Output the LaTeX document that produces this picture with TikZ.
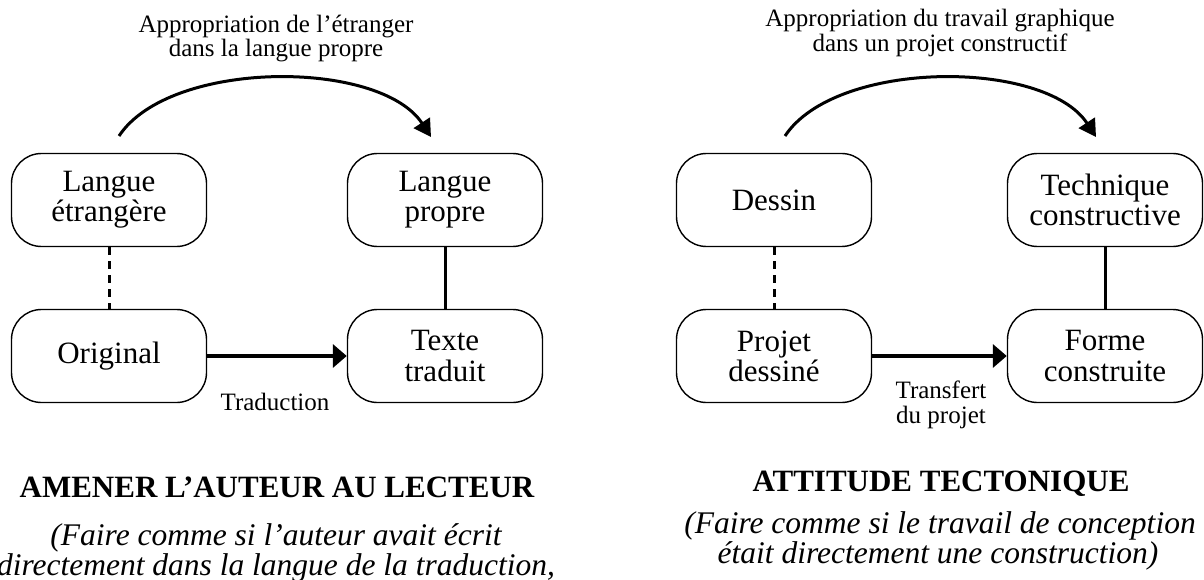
\documentclass[tikz,border=0pt]{standalone}
\usepackage{fontspec}
\setmainfont{Liberation Serif}
\usetikzlibrary{arrows.meta}
\begin{document}
\begin{tikzpicture}[x=1pt,y=-1pt,
  box/.style={draw, line width=1.4pt, rounded corners=30pt,
    minimum width=195pt, minimum height=93pt, align=center, inner sep=0pt,
    font=\fontsize{31}{30}\selectfont},
  solidlink/.style={line width=3pt},
  dashlink/.style={line width=3pt, dash pattern=on 8pt off 6pt},
  flow/.style={line width=3.5pt, -{Triangle[length=14pt,width=23pt]}},
  bendarrow/.style={line width=3pt, -{Triangle[length=17pt,width=19pt]}},
  smalltext/.style={font=\fontsize{25}{25}\selectfont, anchor=base, inner sep=0pt},
  heading/.style={font=\bfseries\fontsize{31}{31}\selectfont, anchor=base, inner sep=0pt},
  note/.style={font=\itshape\fontsize{31.5}{31}\selectfont, anchor=base, inner sep=0pt}]

\useasboundingbox (0,0) rectangle (1204,580);
\fill[white] (0,0) rectangle (1204,580);

% ---------- left diagram: translation ----------
\node[box] (A) at (109,200) {Langue\\étrangère};
\node[box] (B) at (445,200) {Langue\\propre};
\node[box] (C) at (109,356) {Original};
\node[box] (D) at (445,356) {Texte\\traduit};

\draw[dashlink] (A) -- (C);
\draw[solidlink] (B) -- (D);
\draw[flow] (C) -- (D);

\coordinate (arcLs) at (119,136);
\coordinate (arcLe) at (431,137);
\draw[bendarrow] (arcLs) .. controls +(51,-77) and +(-51,-78) .. (arcLe);

\node[smalltext] (tl1) at (276,33) {Appropriation de l’étranger};
\node[smalltext] (tl2) at (276,57) {dans la langue propre};
\node[smalltext] (trad) at (275,410) {Traduction};

\node[heading] (hl) at (277,497) {AMENER L’AUTEUR AU LECTEUR};
\node[note] (nl1) at (276,545) {(Faire comme si l’auteur avait écrit};
\node[note] (nl2) at (276,575) {directement dans la langue de la traduction,};

% ---------- right diagram: tectonic attitude ----------
\node[box] (E) at (774,200) {Dessin};
\node[box] (F) at (1105,200) {Technique\\constructive};
\node[box] (G) at (774,356) {Projet\\dessiné};
\node[box] (H) at (1105,356) {Forme\\construite};

\draw[dashlink] (E) -- (G);
\draw[solidlink] (F) -- (H);
\draw[flow] (G) -- (H);

\coordinate (arcRs) at (785,136);
\coordinate (arcRe) at (1096,137);
\draw[bendarrow] (arcRs) .. controls +(51,-77) and +(-51,-78) .. (arcRe);

\node[smalltext] (tr1) at (940,27) {Appropriation du travail graphique};
\node[smalltext] (tr2) at (940,52) {dans un projet constructif};
\node[smalltext] (tf1) at (941,398) {Transfert};
\node[smalltext] (tf2) at (941,423) {du projet};

\node[heading] (hr) at (941,491) {ATTITUDE TECTONIQUE};
\node[note] (nr1) at (940,533) {(Faire comme si le travail de conception};
\node[note] (nr2) at (938,563) {était directement une construction)};
\end{tikzpicture}
\end{document}
